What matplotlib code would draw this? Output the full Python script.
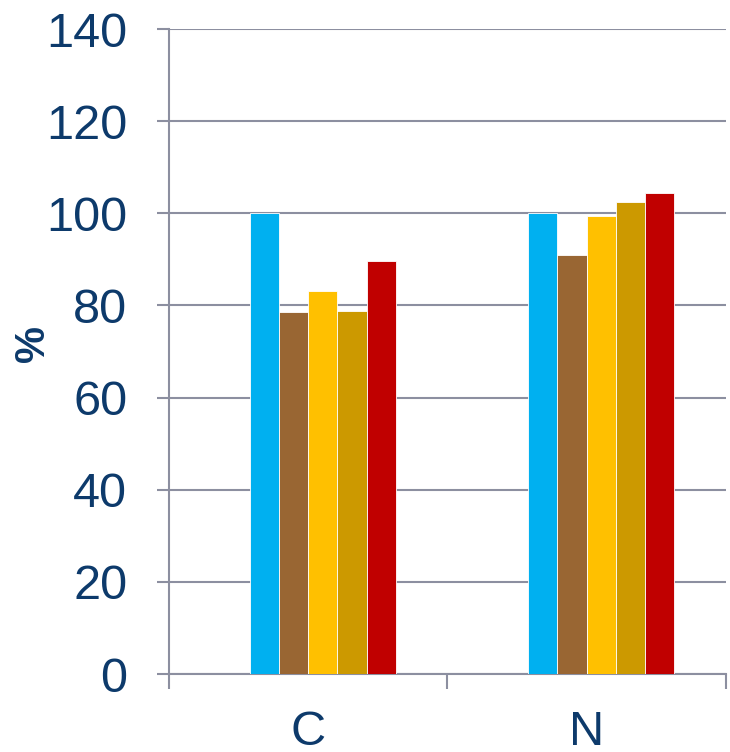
import matplotlib.pyplot as plt
import numpy as np

plt.rcParams['font.family'] = ['Liberation Sans', 'DejaVu Sans']

categories = ['C', 'N']
series_colors = ['#00B0F0', '#996633', '#FFC000', '#CC9900', '#C00000']
values = [
    [100.0, 100.0],
    [78.6, 90.9],
    [83.1, 99.4],
    [78.8, 102.5],
    [89.7, 104.4],
]
y_ticks = [0, 20, 40, 60, 80, 100, 120, 140]

text_color = '#0D3A6B'
axis_color = '#8C8FA0'

fig = plt.figure(figsize=(7.3, 7.52), dpi=100)
ax = fig.add_axes([0.2315, 0.1037, 0.763, 0.8577])

x = np.arange(len(categories))
width = 0.105
# six slots per category, first slot left empty
for i, (vals, col) in enumerate(zip(values, series_colors)):
    offset = (i + 1 - 2.5) * width
    ax.bar(x + offset, vals, width=width, color=col, edgecolor='white',
           linewidth=0.6, zorder=3)

ax.set_xlim(-0.5, 1.5)
ax.set_ylim(0, 140)
ax.set_yticks(y_ticks)
ax.yaxis.grid(True, color=axis_color, linewidth=1.5, zorder=0)

ax.set_xticks(x)
ax.set_xticklabels(categories)
ax.set_xticks([-0.5, 0.5, 1.5], minor=True)
ax.tick_params(axis='x', which='major', length=0, pad=26,
               labelsize=35, labelcolor=text_color)
ax.tick_params(axis='x', which='minor', length=11, width=1.5,
               color=axis_color, direction='out')
ax.tick_params(axis='y', length=9, width=1.5, color=axis_color,
               labelsize=35, labelcolor=text_color, pad=21)

for side in ['top', 'right']:
    ax.spines[side].set_visible(False)
for side in ['left', 'bottom']:
    ax.spines[side].set_color(axis_color)
    ax.spines[side].set_linewidth(1.5)

fig.text(33 / 730, 1 - 344 / 752, '%', fontsize=30, fontweight='bold',
         color=text_color, rotation=90, ha='center', va='center')

fig.savefig('out.png', dpi=100)
